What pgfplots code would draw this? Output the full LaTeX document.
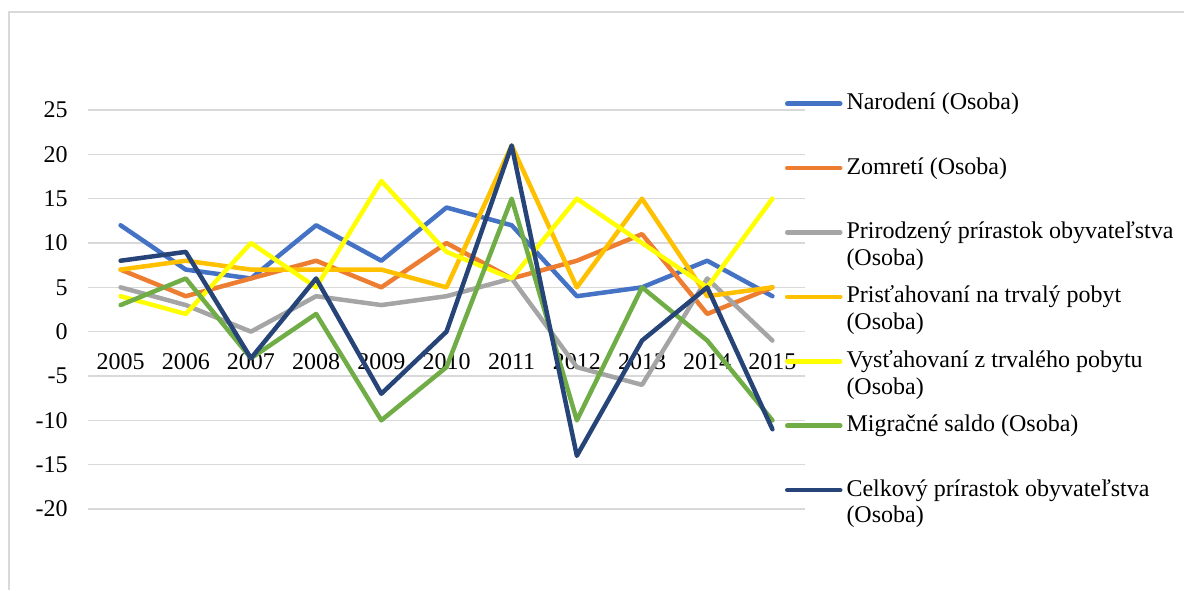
\documentclass[border=0pt]{standalone}
\usepackage{pgfplots}
\pgfplotsset{compat=1.18}
\usepackage{fontspec}
\setmainfont{Liberation Serif}
\definecolor{cA}{HTML}{4472C4}
\definecolor{cB}{HTML}{ED7D31}
\definecolor{cC}{HTML}{A5A5A5}
\definecolor{cD}{HTML}{FFC000}
\definecolor{cE}{HTML}{FFFF00}
\definecolor{cF}{HTML}{70AD47}
\definecolor{cG}{HTML}{264478}
\definecolor{gridc}{HTML}{D9D9D9}
\newcommand{\lent}[2]{\begin{tabular}[t]{@{}l@{}}#1\\#2\end{tabular}}
\begin{document}
\begin{tikzpicture}
\path[use as bounding box] (0,0) rectangle (592pt,295pt);
\draw[gridc, line width=0.6pt] (4.5pt,0) -- (4.5pt,289pt) -- (592pt,289pt);
\begin{axis}[
  at={(44pt,40.5pt)}, anchor=south west,
  scale only axis, width=358.5pt, height=199.5pt,
  xmin=-0.5, xmax=10.5, ymin=-20, ymax=25,
  xtick={0,...,10},
  xticklabels={2005,2006,2007,2008,2009,2010,2011,2012,2013,2014,2015},
  ytick={-20,-15,...,25},
  ymajorgrids, grid style={gridc, line width=0.75pt},
  axis line style={draw=none}, major tick length=0pt,
  tick label style={font=\fontsize{12}{13.4}\selectfont},
  /pgf/number format/assume math mode=true,
  yticklabel style={inner sep=0pt, xshift=-10pt},
  xticklabel style={anchor=center, inner sep=0pt, yshift=73.5pt},
  clip=false,
  every axis plot/.append style={line width=2.25pt, line join=round, line cap=round},
  legend image code/.code={\draw[#1] (1pt,3pt) -- (27.5pt,3pt);},
  legend style={draw=none, fill=none, inner sep=0pt, outer sep=0pt,
    at={(axis description cs:0.9721,1.047)}, anchor=north west,
    nodes={inner sep=0pt, text height=9.2pt, text depth=17pt, font=\fontsize{12}{13.4}\selectfont},
    cells={anchor=base west}, column sep=2pt, row sep=6pt},
]
\addplot[cA] coordinates {(0,12)(1,7)(2,6)(3,12)(4,8)(5,14)(6,12)(7,4)(8,5)(9,8)(10,4)};
\addlegendentry{\lent{Narodení (Osoba)}{}}
\addplot[cB] coordinates {(0,7)(1,4)(2,6)(3,8)(4,5)(5,10)(6,6)(7,8)(8,11)(9,2)(10,5)};
\addlegendentry{\lent{Zomretí (Osoba)}{}}
\addplot[cC] coordinates {(0,5)(1,3)(2,0)(3,4)(4,3)(5,4)(6,6)(7,-4)(8,-6)(9,6)(10,-1)};
\addlegendentry{\lent{Prirodzený prírastok obyvateľstva}{(Osoba)}}
\addplot[cD] coordinates {(0,7)(1,8)(2,7)(3,7)(4,7)(5,5)(6,21)(7,5)(8,15)(9,4)(10,5)};
\addlegendentry{\lent{Prisťahovaní na trvalý pobyt}{(Osoba)}}
\addplot[cE] coordinates {(0,4)(1,2)(2,10)(3,5)(4,17)(5,9)(6,6)(7,15)(8,10)(9,5)(10,15)};
\addlegendentry{\lent{Vysťahovaní z trvalého pobytu}{(Osoba)}}
\addplot[cF] coordinates {(0,3)(1,6)(2,-3)(3,2)(4,-10)(5,-4)(6,15)(7,-10)(8,5)(9,-1)(10,-10)};
\addlegendentry{\lent{Migračné saldo (Osoba)}{}}
\addplot[cG] coordinates {(0,8)(1,9)(2,-3)(3,6)(4,-7)(5,0)(6,21)(7,-14)(8,-1)(9,5)(10,-11)};
\addlegendentry{\lent{Celkový prírastok obyvateľstva}{(Osoba)}}
\end{axis}
\end{tikzpicture}
\end{document}
